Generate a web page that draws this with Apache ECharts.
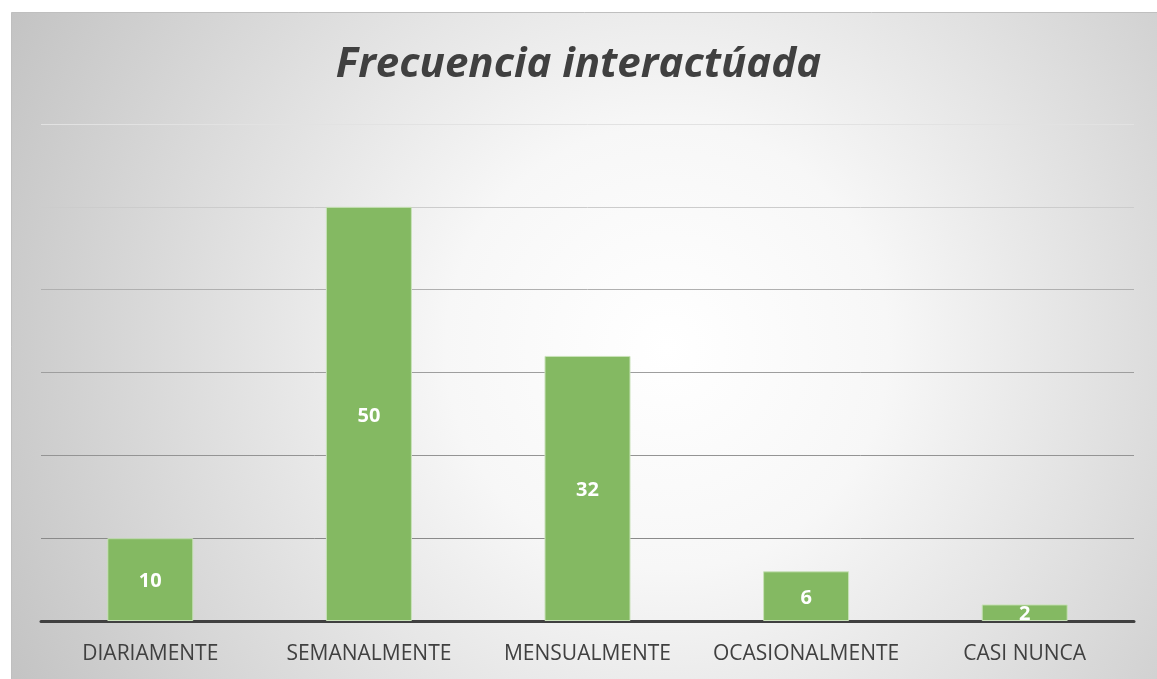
<!DOCTYPE html>
<html>
<head>
<meta charset="utf-8">
<script src="https://cdn.jsdelivr.net/npm/echarts@6/dist/echarts.min.js"></script>
<style>
html,body{margin:0;padding:0;background:#fff;}
#c{width:1157px;height:679px;}
</style>
</head>
<body>
<div id="c"></div>
<script>
const titleText = 'Frecuencia interactúada';
const categories = ['DIARIAMENTE', 'SEMANALMENTE', 'MENSUALMENTE', 'OCASIONALMENTE', 'CASI NUNCA'];
const values = [10, 50, 32, 6, 2];
const yMin = 0, yMax = 60, yInterval = 10;

const chart = echarts.init(document.getElementById('c'));
chart.setOption({
  animation: false,
  graphic: [{
    type: 'rect',
    z: -10,
    silent: true,
    shape: {x: 11.5, y: 12.5, width: 1150, height: 670},
    style: {
      fill: new echarts.graphic.RadialGradient(0.57, 0.5, 1.1, [
        {offset: 0, color: '#ffffff'},
        {offset: 0.3, color: '#f7f7f7'},
        {offset: 1, color: '#c3c3c3'}
      ]),
      stroke: '#bfbfbf',
      lineWidth: 1
    }
  }],
  title: {
    text: titleText,
    left: 'center',
    top: 39,
    textStyle: {
      fontFamily: 'Open Sans',
      fontSize: 42,
      fontWeight: 'bold',
      fontStyle: 'italic',
      color: '#404040'
    }
  },
  grid: {left: 41, right: 23, top: 124, bottom: 58, containLabel: false},
  xAxis: {
    type: 'category',
    data: categories,
    axisLine: {show: true, lineStyle: {color: '#404040', width: 3}},
    axisTick: {show: false},
    axisLabel: {
      interval: 0,
      hideOverlap: false,
      color: '#404040',
      fontFamily: 'Open Sans',
      fontSize: 21,
      margin: 23
    }
  },
  yAxis: {
    type: 'value',
    min: yMin,
    max: yMax,
    interval: yInterval,
    axisLine: {show: false},
    axisTick: {show: false},
    axisLabel: {show: false},
    splitLine: {
      show: true,
      lineStyle: {
        width: 1,
        color: ['#888888', '#8a8a8a', '#949494', '#9e9e9e', '#b0b0b0', '#cccccc', '#e2e2e2']
      }
    }
  },
  series: [{
    type: 'bar',
    data: values,
    barWidth: 86,
    itemStyle: {
      color: '#84b962',
      borderColor: '#c9e2b9',
      borderWidth: 1
    },
    label: {
      show: true,
      position: 'inside',
      color: '#ffffff',
      fontFamily: 'Open Sans',
      fontWeight: 'bold',
      fontSize: 20,
      offset: [0, 2]
    }
  }]
});
</script>
</body>
</html>
